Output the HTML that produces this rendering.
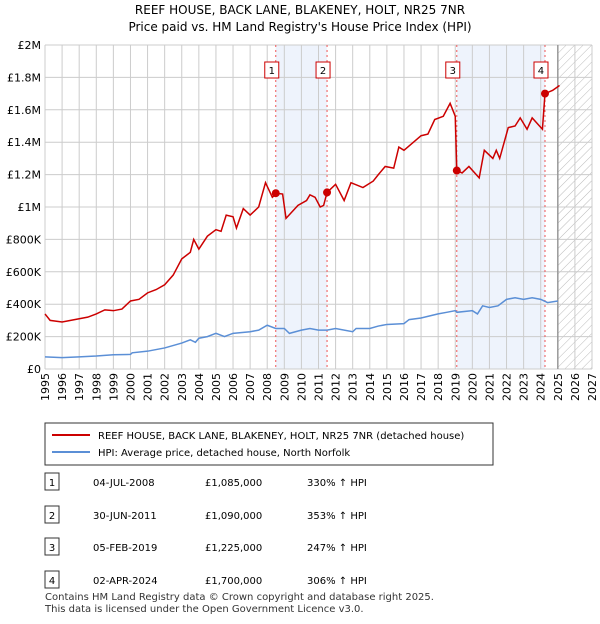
<!DOCTYPE html>
<html><head><meta charset="utf-8"><style>
body{margin:0;background:#fff;font-family:"DejaVu Sans","Liberation Sans",sans-serif;}
svg text{font-family:"DejaVu Sans","Liberation Sans",sans-serif;}
</style></head><body>
<svg id="c" width="600" height="620" viewBox="0 0 600 620">
<defs><pattern id="h" width="6" height="6" patternUnits="userSpaceOnUse" patternTransform="rotate(45)"><line x1="0" y1="0" x2="0" y2="6" stroke="#bbb" stroke-width="1"/></pattern></defs>
<text x="300" y="14" text-anchor="middle" font-size="12">REEF HOUSE, BACK LANE, BLAKENEY, HOLT, NR25 7NR</text>
<text x="300" y="31" text-anchor="middle" font-size="12">Price paid vs. HM Land Registry's House Price Index (HPI)</text>
<g id="plot"></g>
<rect x="45" y="423" width="448" height="42" fill="#fff" stroke="#333"/>
<line x1="52" y1="435" x2="90" y2="435" stroke="#cc0000" stroke-width="2"/>
<text x="98" y="439" font-size="10">REEF HOUSE, BACK LANE, BLAKENEY, HOLT, NR25 7NR (detached house)</text>
<line x1="52" y1="452" x2="90" y2="452" stroke="#5b8fd6" stroke-width="2"/>
<text x="98" y="456" font-size="10">HPI: Average price, detached house, North Norfolk</text>
<g id="tbl" font-size="10"></g>
<text x="45" y="600" font-size="10" fill="#333">Contains HM Land Registry data © Crown copyright and database right 2025.</text>
<text x="45" y="612" font-size="10" fill="#333">This data is licensed under the Open Government Licence v3.0.</text>
</svg>
<script>
const redX=[1995.0,1995.3,1996,1996.5,1997,1997.5,1998,1998.5,1999,1999.5,2000,2000.5,2001,2001.5,2002,2002.5,2003,2003.5,2003.7,2004,2004.5,2005,2005.3,2005.6,2006,2006.2,2006.6,2007,2007.5,2007.9,2008.3,2008.56,2008.9,2009.1,2009.8,2010.3,2010.5,2010.8,2011.1,2011.3,2011.5,2012,2012.5,2012.9,2013.6,2014.2,2014.5,2014.9,2015.4,2015.7,2016,2017,2017.4,2017.8,2018.3,2018.7,2019.0,2019.09,2019.4,2019.8,2020.4,2020.7,2021.2,2021.4,2021.6,2022.1,2022.5,2022.8,2023.2,2023.5,2024.1,2024.25,2024.7,2025.1];
const redY=[340,300,290,300,310,320,340,365,360,370,420,430,470,490,520,580,680,720,800,740,820,860,850,950,940,870,990,950,1000,1150,1060,1085,1080,930,1010,1040,1075,1060,1000,1010,1090,1140,1040,1150,1120,1160,1200,1250,1240,1370,1350,1440,1450,1540,1560,1640,1560,1225,1210,1250,1180,1350,1300,1350,1300,1490,1500,1550,1480,1550,1480,1700,1720,1750];
const hpiX=[1995,1996,1997,1998,1999,2000,2000.1,2001,2002,2003,2003.5,2003.8,2004,2004.5,2005,2005.5,2006,2007,2007.5,2008,2008.5,2009,2009.3,2010,2010.5,2011,2011.5,2012,2013,2013.2,2014,2014.5,2015,2016,2016.3,2017,2018,2018.5,2019,2019.1,2020,2020.3,2020.6,2021,2021.5,2022,2022.5,2023,2023.5,2024,2024.4,2025];
const hpiY=[75,70,75,80,88,90,100,110,130,160,180,165,190,200,220,200,220,230,240,270,250,250,220,240,250,240,240,250,230,250,250,265,275,280,305,315,340,350,360,350,360,340,390,380,390,430,440,430,440,430,410,420];
const saleX=[2008.5,2011.5,2019.09,2024.25];
const saleY=[1085,1090,1225,1700];
const saleLabels=["1","2","3","4"];
const saleDates=["04-JUL-2008","30-JUN-2011","05-FEB-2019","02-APR-2024"];
const salePrices=["£1,085,000","£1,090,000","£1,225,000","£1,700,000"];
const saleHpi=["330% ↑ HPI","353% ↑ HPI","247% ↑ HPI","306% ↑ HPI"];
const yTicks=[0,200,400,600,800,1000,1200,1400,1600,1800,2000];
const yTickLabels=["£0","£200K","£400K","£600K","£800K","£1M","£1.2M","£1.4M","£1.6M","£1.8M","£2M"];
const xTicks=[1995,1996,1997,1998,1999,2000,2001,2002,2003,2004,2005,2006,2007,2008,2009,2010,2011,2012,2013,2014,2015,2016,2017,2018,2019,2020,2021,2022,2023,2024,2025,2026,2027];
const L=45,R=592,T=45,B=369;
const sx=v=>L+(v-1995)/(2027-1995)*(R-L);
const sy=v=>B-v/2000*(B-T);
const NS='http://www.w3.org/2000/svg';
const g=document.getElementById('plot');
function mk(t,a,p){const e=document.createElementNS(NS,t);for(const k in a)e.setAttribute(k,a[k]);(p||g).appendChild(e);return e;}
let e;
e=mk('rect',{x:sx(saleX[0]),y:T,width:sx(saleX[1])-sx(saleX[0]),height:B-T,fill:'#eef3fc'});


e=mk('rect',{x:sx(saleX[2]),y:T,width:sx(saleX[3])-sx(saleX[2]),height:B-T,fill:'#eef3fc'});


e=mk('rect',{x:sx(2025),y:T,width:R-sx(2025),height:B-T,fill:'url(#h)'});


yTicks.forEach((v,i)=>{
 e=mk('line',{x1:L,x2:R,y1:sy(v),y2:sy(v),stroke:'#ccc'});
 
 
 e=mk('text',{x:L-4,y:sy(v)+4,'text-anchor':'end','font-size':11});
 e.textContent=yTickLabels[i];
 
 
});
xTicks.forEach(v=>{
 e=mk('line',{x1:sx(v),x2:sx(v),y1:T,y2:B,stroke:'#ccc'});
 
 
 const x=sx(v)+4,y=B+4;
 e=mk('text',{x:x,y:y,'text-anchor':'end','font-size':11,transform:'rotate(-90 '+x+' '+y+')'});
 e.textContent=v;
 
 
});
e=mk('line',{x1:sx(2025),x2:sx(2025),y1:T,y2:B,stroke:'#999','stroke-width':1.5});


saleX.forEach((v,i)=>{
 e=mk('line',{x1:sx(v),x2:sx(v),y1:T,y2:B,stroke:'#e55','stroke-dasharray':'2,3'});
 
 
 e=mk('rect',{x:sx(v)-4-7,y:62,width:14,height:16,fill:'#fff',stroke:'#cc0000'});
 
 
 e=mk('text',{x:sx(v)-4,y:74,'text-anchor':'middle','font-size':10});
 e.textContent=saleLabels[i];
 
 
});
e=mk('polyline',{points:hpiX.map((x,i)=>sx(x)+','+sy(hpiY[i])).join(' '),fill:'none',stroke:'#5b8fd6','stroke-width':1.5});


e=mk('polyline',{points:redX.map((x,i)=>sx(x)+','+sy(redY[i])).join(' '),fill:'none',stroke:'#cc0000','stroke-width':1.5});


saleX.forEach((v,i)=>{
 e=mk('circle',{cx:sx(v),cy:sy(saleY[i]),r:4,fill:'#cc0000'});
 
 
});
const t=document.getElementById('tbl');
const rowY=[484,517,549,582];
saleLabels.forEach((s,i)=>{
 const y=rowY[i];
 e=mk('rect',{x:45,y:y-11,width:14,height:17,fill:'#fff',stroke:'#333'},t);
 
 
 e=mk('text',{x:52,y:y+2,'text-anchor':'middle'},t);e.textContent=s;
 
 
 e=mk('text',{x:93,y:y+2},t);e.textContent=saleDates[i];
 
 
 e=mk('text',{x:205,y:y+2},t);e.textContent=salePrices[i];
 
 
 e=mk('text',{x:307,y:y+2},t);e.textContent=saleHpi[i];
 
 
});
</script>
</body></html>
